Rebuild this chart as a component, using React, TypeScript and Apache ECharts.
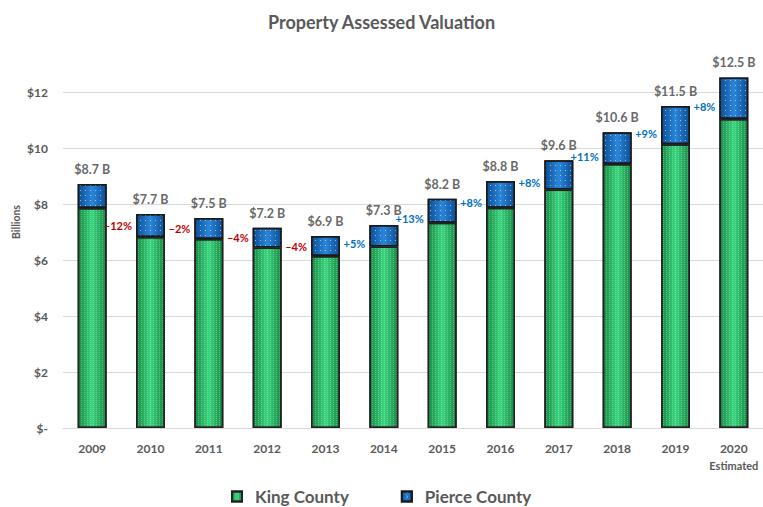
import React, { useEffect, useRef } from "react";
import * as echarts from "echarts";

const years = ["2009", "2010", "2011", "2012", "2013", "2014", "2015", "2016", "2017", "2018", "2019", "2020"];
const kingValues = [7.86, 6.82, 6.75, 6.45, 6.14, 6.48, 7.33, 7.87, 8.52, 9.43, 10.13, 11.04];
const pierceValues = [0.85, 0.82, 0.75, 0.7, 0.72, 0.77, 0.86, 0.95, 1.04, 1.13, 1.37, 1.48];
const totalLabels = ["8.7", "7.7", "7.5", "7.2", "6.9", "7.3", "8.2", "8.8", "9.6", "10.6", "11.5", "12.5"];
const pctChange: (number | null)[] = [null, -12, -2, -4, -4, 5, 13, 8, 8, 11, 9, 8];
const yTickValues = [0, 2, 4, 6, 8, 10, 12];

const FONT = "Lato, 'Open Sans', sans-serif";

export default function App() {
  const ref = useRef<HTMLDivElement>(null);

  useEffect(() => {
    if (!ref.current) return;
    const chart = echarts.init(ref.current, undefined, { renderer: "svg" });

    const kingColor = new echarts.graphic.LinearGradient(0, 0, 1, 0, [
      { offset: 0, color: "#178a45" },
      { offset: 0.5, color: "#3ad67e" },
      { offset: 1, color: "#178a45" },
    ]);
    const pierceColor = new echarts.graphic.LinearGradient(0, 0, 1, 0, [
      { offset: 0, color: "#0d4f95" },
      { offset: 0.5, color: "#2a86da" },
      { offset: 1, color: "#0d4f95" },
    ]);

    const totals = kingValues.map((k, i) => +(k + pierceValues[i]).toFixed(2));

    const option: any = {
      animation: false,
      backgroundColor: "#ffffff",
      textStyle: { fontFamily: FONT },
      title: {
        text: "Property Assessed Valuation",
        left: "center",
        top: 8,
        textStyle: { fontFamily: FONT, fontSize: 18, fontWeight: "bold", color: "#595959" },
      },
      legend: {
        data: [
          { name: "King County", icon: "rect" },
          { name: "Pierce County", icon: "rect" },
        ],
        left: 231,
        top: 488,
        padding: 0,
        itemWidth: 10,
        itemHeight: 10,
        itemGap: 52,
        textStyle: {
          fontFamily: FONT,
          fontSize: 17,
          fontWeight: "bold",
          color: "#595959",
          padding: [0, 0, 0, 8],
        },
      },
      grid: { left: 63, right: -3, top: 92, bottom: 79, containLabel: false },
      xAxis: {
        type: "category",
        data: years,
        axisLine: { show: true, lineStyle: { color: "#d9d9d9", width: 1 } },
        axisTick: { show: false },
        axisLabel: {
          interval: 0,
          margin: 12,
          formatter: (v: string, i: number) =>
            i === years.length - 1 ? `{y|${v}}\n{e|Estimated}` : `{y|${v}}`,
          rich: {
            y: { fontFamily: FONT, fontSize: 12, fontWeight: "bold", color: "#595959", lineHeight: 17 },
            e: { fontFamily: FONT, fontSize: 11, fontWeight: "bold", color: "#595959", lineHeight: 17 },
          },
        },
      },
      yAxis: {
        type: "value",
        min: yTickValues[0],
        max: yTickValues[yTickValues.length - 1],
        interval: 2,
        axisLine: { show: false },
        axisTick: { show: false },
        splitLine: { lineStyle: { color: "#d9d9d9", width: 1 } },
        axisLabel: {
          margin: 15,
          fontFamily: FONT,
          fontSize: 12,
          fontWeight: "bold",
          color: "#595959",
          formatter: (v: number) => (v === 0 ? "$-" : `$${v}`),
        },
      },
      graphic: [
        {
          type: "text",
          x: 16,
          y: 222,
          rotation: Math.PI / 2,
          style: {
            text: "Billions",
            fontFamily: FONT,
            fontSize: 10.5,
            fontWeight: "bold",
            fill: "#595959",
            align: "center",
            verticalAlign: "middle",
          },
        },
      ],
      series: [
        {
          name: "King County",
          type: "bar",
          stack: "total",
          barWidth: 29,
          clip: false,
          data: kingValues,
          itemStyle: {
            color: kingColor,
            borderColor: "#222222",
            borderWidth: 1.5,
            decal: {
              symbol: "rect",
              symbolSize: 1,
              color: "rgba(255,255,255,0.28)",
              dashArrayX: [1, 2],
              dashArrayY: [1, 1],
              rotation: 0,
            },
          },
        },
        {
          name: "Pierce County",
          type: "bar",
          stack: "total",
          barWidth: 29,
          clip: false,
          itemStyle: {
            color: pierceColor,
            borderColor: "#1a1a1a",
            borderWidth: 1.5,
            decal: {
              symbol: "rect",
              symbolSize: 1,
              color: "rgba(255,255,255,0.55)",
              dashArrayX: [1, 4],
              dashArrayY: [1, 4],
              rotation: 0,
            },
          },
          data: pierceValues.map((v, i) => {
            const p = pctChange[i];
            if (p == null) return { value: v };
            return {
              value: v,
              label: {
                show: true,
                position: "left",
                distance: 4,
                offset: [0, p > 0 ? 8 : 0],
                formatter: p > 0 ? `+${p}%` : `\u2013${Math.abs(p)}%`,
                fontFamily: FONT,
                fontSize: 11,
                fontWeight: "bold",
                color: p > 0 ? "#0070C0" : "#C00000",
              },
            };
          }),
        },
        {
          name: "Total",
          type: "scatter",
          symbolSize: 0,
          silent: true,
          clip: false,
          z: 10,
          data: totals,
          label: {
            show: true,
            position: "top",
            distance: 8,
            formatter: (p: any) => `$${totalLabels[p.dataIndex]} B`,
            fontFamily: FONT,
            fontSize: 12.5,
            fontWeight: "bold",
            color: "#404040",
          },
        },
      ],
    };

    chart.setOption(option);
    return () => chart.dispose();
  }, []);

  return (
    <div
      ref={ref}
      style={{ position: "absolute", left: 0, top: 0, width: 763, height: 507 }}
    />
  );
}
